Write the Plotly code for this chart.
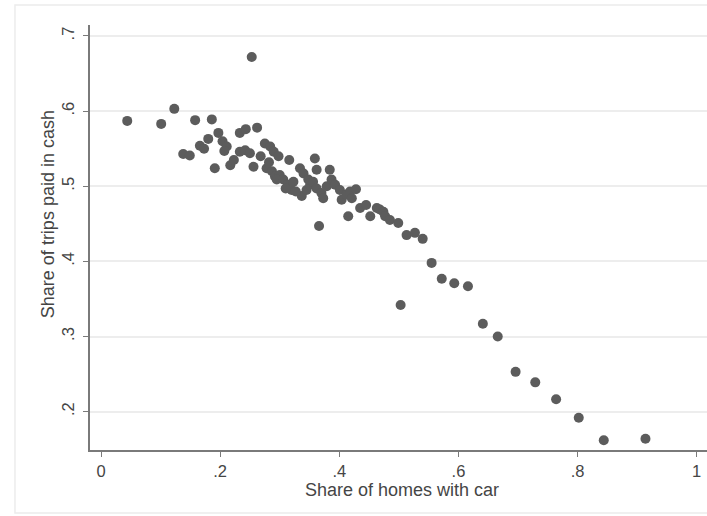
import plotly.graph_objects as go

# Share of homes with a car vs. share of trips paid in cash, one point per area
car_share = [
    0.044, 0.101, 0.123, 0.138, 0.149, 0.158, 0.166, 0.173, 0.180, 0.186,
    0.191, 0.197, 0.204, 0.211, 0.207, 0.217, 0.223, 0.233, 0.243, 0.233,
    0.242, 0.250, 0.256, 0.262, 0.253, 0.275, 0.284, 0.290, 0.298, 0.278,
    0.287, 0.292, 0.300, 0.295, 0.306, 0.314, 0.320, 0.323, 0.316, 0.334,
    0.340, 0.359, 0.362, 0.384, 0.337, 0.345, 0.351, 0.348, 0.356, 0.362,
    0.370, 0.373, 0.379, 0.387, 0.393, 0.401, 0.404, 0.412, 0.418, 0.428,
    0.421, 0.366, 0.415, 0.435, 0.445, 0.452, 0.463, 0.468, 0.474, 0.477,
    0.485, 0.499, 0.513, 0.527, 0.540, 0.503, 0.555, 0.572, 0.593, 0.616,
    0.641, 0.666, 0.696, 0.729, 0.764, 0.802, 0.844, 0.914,
    0.310, 0.327, 0.268, 0.282,
]
cash_share = [
    0.587, 0.583, 0.603, 0.543, 0.541, 0.588, 0.554, 0.550, 0.563, 0.589,
    0.524, 0.571, 0.560, 0.553, 0.547, 0.528, 0.535, 0.571, 0.576, 0.546,
    0.548, 0.544, 0.526, 0.578, 0.672, 0.557, 0.553, 0.546, 0.540, 0.524,
    0.520, 0.513, 0.515, 0.509, 0.509, 0.502, 0.495, 0.506, 0.535, 0.524,
    0.517, 0.537, 0.522, 0.522, 0.487, 0.495, 0.502, 0.509, 0.506, 0.497,
    0.491, 0.484, 0.500, 0.509, 0.502, 0.495, 0.482, 0.489, 0.493, 0.496,
    0.484, 0.447, 0.460, 0.471, 0.475, 0.460, 0.471, 0.469, 0.466, 0.460,
    0.455, 0.451, 0.435, 0.438, 0.430, 0.342, 0.398, 0.377, 0.371, 0.367,
    0.317, 0.300, 0.253, 0.239, 0.2165, 0.192, 0.162, 0.164,
    0.497, 0.493, 0.540, 0.532,
]

x_ticks = [0, 0.2, 0.4, 0.6, 0.8, 1]
x_tick_text = ["0", ".2", ".4", ".6", ".8", "1"]
y_ticks = [0.2, 0.3, 0.4, 0.5, 0.6, 0.7]
y_tick_text = [".2", ".3", ".4", ".5", ".6", ".7"]

FONT = "Liberation Sans, Arial, sans-serif"
TEXT = "#454545"
AXIS = "#7a7a7a"

fig = go.Figure(
    go.Scatter(
        x=car_share,
        y=cash_share,
        mode="markers",
        marker=dict(size=10, color="#5c5c5c", line=dict(width=0)),
        hoverinfo="x+y",
    )
)

fig.update_layout(
    width=707,
    height=516,
    margin=dict(l=90, r=0, t=25, b=66),
    paper_bgcolor="white",
    plot_bgcolor="white",
    showlegend=False,
    font=dict(family=FONT, size=16, color=TEXT),
    shapes=[
        # faint outer frame of the graph region
        dict(
            type="rect", xref="paper", yref="paper",
            x0=-0.1216, x1=1.05, y0=-0.148, y1=1.047,
            line=dict(color="#ececec", width=1.5), fillcolor="rgba(0,0,0,0)",
            layer="below",
        )
    ],
    annotations=[
        dict(
            text="Share of homes with car", xref="paper", yref="paper",
            x=0.505, y=-0.094, xanchor="center", yanchor="middle",
            showarrow=False, font=dict(size=18, color=TEXT),
        ),
        dict(
            text="Share of trips paid in cash", xref="paper", yref="paper",
            x=-0.068, y=0.555, xanchor="center", yanchor="middle",
            textangle=-90, showarrow=False, font=dict(size=18, color=TEXT),
        ),
    ],
)

fig.update_xaxes(
    range=[-0.0185, 1.0173],
    tickvals=x_ticks,
    ticktext=x_tick_text,
    showgrid=False,
    zeroline=False,
    showline=True,
    linecolor=AXIS,
    linewidth=1.5,
    ticks="outside",
    ticklen=5,
    tickwidth=1.2,
    tickcolor=AXIS,
    tickfont=dict(size=16.5, color=TEXT),
)

fig.update_yaxes(
    range=[0.149, 0.7146],
    tickvals=y_ticks,
    ticktext=y_tick_text,
    tickangle=-90,
    showgrid=True,
    gridcolor="#ededed",
    gridwidth=1.5,
    zeroline=False,
    showline=True,
    linecolor=AXIS,
    linewidth=1.5,
    ticks="outside",
    ticklen=5,
    tickwidth=1.2,
    tickcolor=AXIS,
    tickfont=dict(size=16.5, color=TEXT),
    ticklabelstandoff=3,
)

fig.write_html("out.html")
